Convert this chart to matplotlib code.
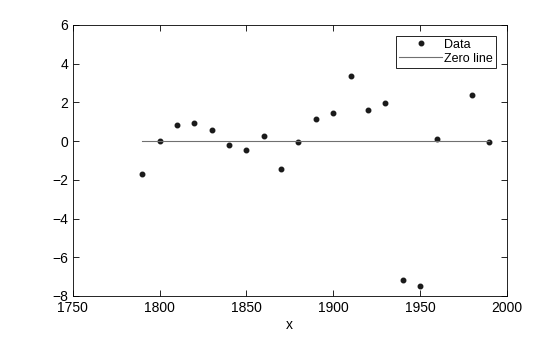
import matplotlib
matplotlib.use('Agg')
import matplotlib.pyplot as plt

years = [1790, 1800, 1810, 1820, 1830, 1840, 1850, 1860, 1870, 1880,
         1890, 1900, 1910, 1920, 1930, 1940, 1950, 1960, 1980, 1990]
values = [-1.69, 0.0, 0.84, 0.94, 0.58, -0.2, -0.46, 0.27, -1.44, -0.04,
          1.15, 1.46, 3.37, 1.61, 1.97, -7.2, -7.5, 0.11, 2.38, -0.05]
zero_x = [1790, 1990]
zero_y = [0, 0]

plt.rcParams['font.family'] = ['Liberation Sans', 'DejaVu Sans']
plt.rcParams['font.size'] = 10

fig = plt.figure(figsize=(5.6, 3.37), dpi=100)
ax = fig.add_axes([0.130, 0.1217, 0.775, 0.8043])

ax.plot(years, values, '.', color='#1a1a1a', markersize=6.5, label='Data')
ax.plot(zero_x, zero_y, '-', color='#707070', linewidth=0.8, label='Zero line')

ax.set_xlim(1750, 2000)
ax.set_ylim(-8, 6)
ax.set_xticks(range(1750, 2001, 50))
ax.set_yticks(range(-8, 7, 2))
ax.set_xlabel('x', labelpad=2)
ax.tick_params(direction='in', top=True, right=True, length=4, width=0.6)
for s in ax.spines.values():
    s.set_linewidth(0.6)

leg = ax.legend(loc='upper right', fancybox=False, edgecolor='black',
                framealpha=1, fontsize=9, borderpad=0.25, labelspacing=0.15,
                handlelength=3.4, handletextpad=0.2, borderaxespad=0.85)
leg.get_frame().set_linewidth(0.6)

fig.savefig('out.png', dpi=100)
